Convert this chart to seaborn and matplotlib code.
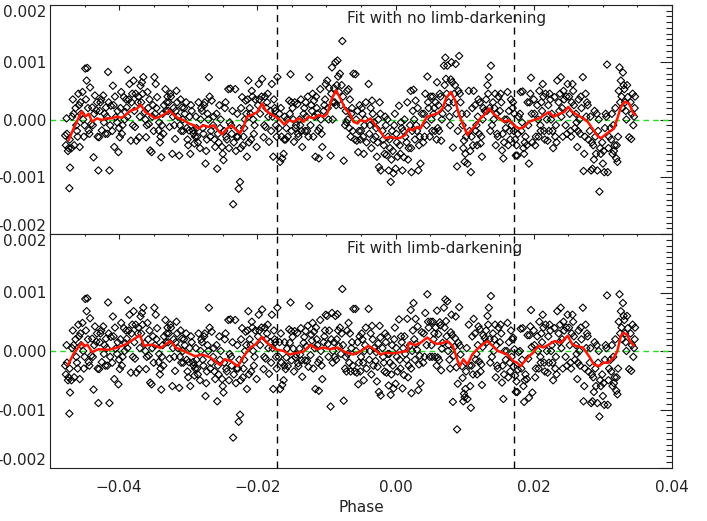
import matplotlib
matplotlib.use("Agg")
import matplotlib.pyplot as plt
import seaborn as sns
import numpy as np
from matplotlib.ticker import MultipleLocator, FuncFormatter

# orbital phase of each exposure (units of 1e-3)
phase_k = [
    -47.8, -47.6, -47.4, -47.2, -47.1, -47.7, -47.3, -47.55, -47.15,
    -46.9, -46.7, -46.5, -46.3, -46.1, -46.8, -46.2, -46.6, -46.0,
    -45.9, -45.7, -45.5, -45.3, -45.1, -45.8, -45.2, -45.6, -45.0,
    -44.9, -44.7, -44.6, -44.4, -44.2, -44.05, -44.5, -44.8, -44.3,
    -43.9, -43.7, -43.5, -43.3, -43.0, -43.8, -43.2, -43.6, -43.1,
    -42.9, -42.7, -42.5, -42.3, -42.1, -42.8, -42.2, -42.6, -42.0,
    -41.9, -41.7, -41.6, -41.4, -41.2, -41.8, -41.3, -41.5, -41.0,
    -40.9, -40.7, -40.5, -40.3, -40.1, -40.8, -40.2, -40.6, -40.0,
    -39.9, -39.7, -39.5, -39.3, -39.1, -39.8, -39.2, -39.6, -39.0,
    -38.9, -38.7, -38.5, -38.3, -38.1, -38.8, -38.2, -38.6, -38.0,
    -37.9, -37.7, -37.5, -37.3, -37.1, -37.8, -37.2, -37.6, -37.0,
    -36.9, -36.7, -36.5, -36.3, -36.1, -36.8, -36.2, -36.6, -36.0,
    -35.9, -35.7, -35.5, -35.3, -35.1, -35.8, -35.2, -35.6, -35.0,
    -34.9, -34.7, -34.5, -34.3, -34.1, -34.8, -34.2, -34.6, -34.0,
    -33.9, -33.7, -33.5, -33.3, -33.1, -33.8, -33.2, -33.6, -33.0,
    -32.9, -32.7, -32.5, -32.3, -32.1, -32.8, -32.2, -32.6, -32.0,
    -31.9, -31.7, -31.5, -31.3, -31.1, -31.8, -31.2, -31.6, -31.0,
    -30.9, -30.7, -30.5, -30.3, -30.1, -30.8, -30.2, -30.6, -30.0,
    -29.9, -29.7, -29.5, -29.3, -29.1, -29.8, -29.2, -29.6, -29.0,
    -28.9, -28.7, -28.5, -28.3, -28.1, -28.8, -28.2, -28.6, -28.0,
    -27.9, -27.7, -27.5, -27.3, -27.1, -27.8, -27.2, -27.6, -27.4,
    -27.0, -26.8, -26.6, -26.4, -26.1, -26.7, -26.3, -26.9, -26.2,
    -25.9, -25.8, -25.6, -25.3, -25.1, -25.7, -25.4, -25.5, -25.0,
    -24.9, -24.7, -24.5, -24.2, -24.0, -24.8, -24.4, -24.6, -24.1,
    -23.9, -23.7, -23.5, -23.2, -23.0, -23.8, -23.4, -23.6, -23.1,
    -22.9, -22.7, -22.5, -22.4, -22.2, -22.8, -22.6, -22.35, -22.1,
    -22.0, -21.8, -21.7, -21.5, -21.3, -21.9, -21.6, -21.4, -21.2,
    -21.1, -20.9, -20.8, -20.6, -20.3, -21.0, -20.4, -20.7, -20.5,
    -20.1, -19.8, -19.6, -19.3, -19.1, -19.9, -19.4, -19.7, -19.0,
    -18.9, -18.8, -18.6, -18.3, -18.1, -18.7, -18.4, -18.5, -18.0,
    -17.9, -17.7, -17.5, -17.3, -17.1, -17.8, -17.4, -17.6, -17.2,
    -16.9, -16.7, -16.4, -16.2, -16.05, -16.8, -16.5, -16.6, -16.1,
    -15.9, -15.7, -15.4, -15.2, -15.05, -15.8, -15.3, -15.6, -15.1,
    -14.9, -14.7, -14.5, -14.2, -14.05, -14.8, -14.4, -14.6, -14.1,
    -13.9, -13.7, -13.5, -13.3, -13.1, -13.8, -13.2, -13.6, -13.0,
    -12.9, -12.7, -12.5, -12.3, -12.1, -12.8, -12.2, -12.6, -12.0,
    -11.9, -11.8, -11.6, -11.4, -11.2, -11.7, -11.3, -11.5, -11.0,
    -11.1, -10.9, -10.6, -10.4, -10.1, -10.8, -10.3, -10.7, -10.2,
    -9.9, -9.7, -9.4, -9.2, -9.05, -9.8, -9.3, -9.6, -9.1,
    -8.9, -8.7, -8.4, -8.2, -8.05, -8.8, -8.5, -8.6, -8.3,
    -7.9, -7.7, -7.5, -7.3, -7.0, -7.8, -7.2, -7.6, -7.1,
    -6.9, -6.8, -6.5, -6.3, -6.1, -6.7, -6.4, -6.6, -6.2,
    -5.9, -5.8, -5.6, -5.4, -5.2, -5.7, -5.3, -5.5, -5.1,
    -5.0, -4.8, -4.6, -4.4, -4.2, -4.9, -4.5, -4.7, -4.3,
    -3.9, -3.7, -3.5, -3.4, -3.1, -3.8, -3.3, -3.6, -3.2,
    -2.9, -2.7, -2.5, -2.3, -2.15, -2.8, -2.4, -2.6, -2.2,
    -1.9, -1.7, -1.5, -1.3, -1.1, -1.8, -1.4, -1.6, -1.2,
    -1.0, -0.8, -0.7, -0.5, -0.3, -0.1, -0.9, -0.4, -0.6, -0.2,
    0.0, 0.2, 0.5, 0.7, 0.9, 0.1, 0.6, 0.3, 0.8,
    1.0, 1.2, 1.4, 1.7, 1.9, 1.1, 1.6, 1.3, 1.8,
    2.1, 2.2, 2.3, 2.6, 2.8, 2.4, 2.7, 2.25, 2.5,
    2.9, 3.1, 3.3, 3.6, 3.8, 3.0, 3.5, 3.2, 3.4,
    4.0, 4.3, 4.6, 4.8, 4.95, 4.1, 4.5, 4.2, 4.7,
    5.1, 5.3, 5.5, 5.8, 5.95, 5.2, 5.6, 5.4, 5.7,
    6.0, 6.3, 6.5, 6.6, 6.8, 6.2, 6.7, 6.1, 6.4,
    7.0, 7.2, 7.3, 7.5, 7.7, 7.9, 7.4, 7.6, 7.1, 7.8,
    8.1, 8.2, 8.3, 8.5, 8.7, 8.9, 8.4, 8.6, 8.0, 8.8,
    9.0, 9.2, 9.4, 9.6, 9.9, 9.1, 9.7, 9.3, 9.8,
    10.0, 10.1, 10.4, 10.6, 10.9, 10.2, 10.7, 10.3, 10.8,
    11.0, 11.3, 11.5, 11.7, 11.9, 11.2, 11.6, 11.1, 11.8,
    12.1, 12.3, 12.5, 12.7, 12.9, 12.2, 12.6, 12.0, 12.4,
    13.1, 13.3, 13.5, 13.8, 13.95, 13.2, 13.6, 13.4, 13.7,
    14.1, 14.3, 14.5, 14.7, 14.9, 14.2, 14.6, 14.4, 14.8,
    15.2, 15.4, 15.6, 15.8, 15.95, 15.1, 15.5, 15.3, 15.7,
    16.2, 16.4, 16.6, 16.8, 16.95, 16.1, 16.5, 16.3, 16.7,
    17.1, 17.3, 17.4, 17.6, 17.8, 17.2, 17.7, 17.0, 17.5,
    18.1, 18.3, 18.4, 18.6, 18.8, 18.2, 18.7, 18.0, 18.5,
    19.1, 19.3, 19.5, 19.6, 19.8, 19.2, 19.7, 19.0, 19.4,
    20.1, 20.3, 20.5, 20.8, 20.95, 20.2, 20.6, 20.0, 20.7,
    21.1, 21.3, 21.5, 21.7, 21.9, 21.2, 21.6, 21.0, 21.4,
    22.0, 22.2, 22.4, 22.6, 22.8, 22.1, 22.5, 22.3, 22.7,
    23.0, 23.2, 23.4, 23.6, 23.9, 23.1, 23.7, 23.3, 23.8,
    24.0, 24.2, 24.4, 24.6, 24.9, 24.1, 24.7, 24.3, 24.8,
    25.1, 25.3, 25.6, 25.8, 25.95, 25.2, 25.5, 25.4, 25.7,
    26.1, 26.3, 26.5, 26.7, 26.9, 26.2, 26.6, 26.4, 26.8,
    27.1, 27.3, 27.5, 27.7, 27.9, 27.2, 27.6, 27.4, 27.8,
    28.1, 28.3, 28.5, 28.7, 28.9, 28.2, 28.6, 28.4, 28.8,
    29.1, 29.2, 29.5, 29.7, 29.9, 29.3, 29.6, 29.0, 29.4,
    30.0, 30.2, 30.4, 30.6, 30.7, 30.9, 30.3, 30.8, 30.1, 30.5,
    31.1, 31.4, 31.6, 31.8, 31.95, 31.2, 31.5, 31.3, 31.7,
    32.1, 32.3, 32.4, 32.6, 32.8, 32.2, 32.7, 32.0, 32.5,
    32.9, 33.1, 33.3, 33.6, 33.8, 33.2, 33.5, 33.0, 33.4,
    34.0, 34.1, 34.3, 34.5, 34.6, 34.2, 34.4, 34.65,
]

# residuals of the fit without limb darkening (units of 1e-3)
resid_no_ld = [
    -0.28, 0.02, -0.55, -1.20, -0.84, -0.45, -0.50, -0.25, -0.35,
    -0.50, 0.35, -0.45, 0.20, -0.20, 0.05, -0.10, 0.10, -0.30,
    0.45, -0.48, 0.10, 0.48, -0.30, 0.25, 0.00, 0.30, -0.10,
    0.89, 0.68, 0.90, -0.19, 0.56, -0.08, 0.20, 0.35, -0.25,
    0.21, -0.66, 0.42, 0.16, -0.89, -0.10, 0.30, 0.10, -0.30,
    -0.31, 0.30, -0.19, 0.42, 0.10, 0.15, -0.05, 0.35, -0.25,
    0.21, -0.25, 0.83, -0.89, 0.24, 0.05, -0.10, 0.30, -0.20,
    0.59, -0.48, 0.04, -0.05, -0.57, 0.25, 0.15, 0.40, -0.15,
    -0.31, 0.48, -0.10, 0.39, 0.13, 0.20, 0.00, -0.25, 0.35,
    0.21, 0.87, 0.62, -0.37, 0.45, 0.05, 0.30, 0.35, -0.10,
    0.68, -0.13, -0.37, 0.30, -0.31, 0.15, 0.40, 0.45, 0.05,
    0.59, 0.65, 0.74, 0.13, -0.31, 0.30, 0.00, 0.45, -0.10,
    0.48, -0.08, -0.54, -0.57, 0.25, 0.20, 0.05, 0.35, -0.20,
    0.74, 0.62, 0.39, -0.19, -0.40, 0.10, -0.05, 0.20, -0.30,
    -0.66, 0.10, 0.25, 0.53, 0.30, -0.10, 0.15, -0.25, 0.40,
    0.15, -0.13, 0.40, -0.60, 0.20, 0.30, 0.05, 0.45, -0.10,
    -0.34, 0.50, 0.05, -0.63, 0.35, 0.15, -0.10, 0.30, -0.20,
    0.21, -0.20, 0.10, 0.30, -0.35, 0.00, -0.15, 0.20, -0.45,
    -0.19, -0.60, 0.15, -0.19, -0.42, 0.05, -0.25, 0.25, -0.30,
    0.05, -0.30, 0.30, -0.50, 0.20, -0.15, 0.00, -0.40, 0.15,
    -0.15, 0.25, -0.77, -0.35, 0.00, -0.25, 0.10, 0.30, -0.55,
    0.74, -0.30, 0.33, -0.10, -0.48, -0.20, 0.05, 0.40, -0.35,
    0.10, -0.86, -0.40, 0.00, -0.48, -0.25, -0.15, 0.25, -0.60,
    -0.71, 0.20, -0.30, 0.53, -0.05, -0.20, -0.35, 0.30, -0.50,
    0.54, -0.25, -1.48, 0.53, -0.30, -0.10, -0.40, 0.15, -0.55,
    0.10, -1.21, -1.09, -0.50, 0.39, -0.30, -0.15, 0.20, -0.45,
    -0.30, 0.00, 0.33, -0.65, 0.68, -0.15, 0.10, 0.35, -0.40,
    0.20, -0.35, 0.50, 0.00, 0.35, 0.10, -0.10, 0.40, -0.25,
    -0.48, 0.62, 0.10, 0.71, -0.31, 0.25, 0.40, 0.35, -0.10,
    0.40, -0.13, 0.30, -0.39, 0.15, 0.20, 0.05, 0.45, -0.20,
    0.62, -0.65, 0.20, -0.10, 0.74, 0.05, 0.15, 0.35, -0.30,
    -0.15, -0.74, -0.68, -0.60, 0.05, 0.10, -0.30, 0.20, -0.35,
    -0.35, 0.00, 0.33, 0.79, -0.20, -0.15, 0.10, -0.30, 0.30,
    0.20, -0.39, -0.15, 0.27, -0.30, 0.00, -0.10, 0.30, -0.25,
    0.00, 0.35, -0.48, 0.10, -0.20, -0.10, 0.20, -0.20, 0.30,
    0.05, 0.40, 0.74, -0.10, 0.15, -0.20, 0.25, -0.30, 0.45,
    -0.30, 0.33, -0.65, 0.20, -0.20, 0.05, 0.10, 0.40, -0.15,
    -0.68, 0.53, -0.48, 0.15, 0.62, 0.00, 0.25, -0.25, 0.35,
    0.68, 0.00, -0.63, 0.91, 0.30, 0.20, 0.45, 0.55, 0.00,
    0.55, 1.00, 1.03, 0.48, 0.80, 0.30, 0.60, 0.25, 0.75,
    0.25, 1.37, -0.72, -0.10, 0.50, 0.60, 0.15, 0.40, -0.05,
    0.00, 0.53, -0.30, 0.20, 0.80, -0.15, 0.10, 0.35, -0.20,
    -0.35, 0.79, -0.37, -0.57, 0.25, 0.00, -0.20, 0.15, -0.35,
    -0.20, 0.10, -0.60, 0.00, -0.40, 0.20, -0.10, -0.30, 0.30,
    0.62, -0.10, -0.50, 0.33, -0.05, -0.25, 0.10, 0.20, -0.35,
    -0.30, -0.65, 0.00, 0.30, -0.89, -0.15, -0.83, -0.40, 0.10,
    -0.20, -0.45, 0.05, -0.62, -0.30, -0.35, -0.10, -0.60, 0.00,
    -0.89, -0.50, -1.09, -0.20, -0.94, 0.10, -0.35, -0.55, -0.70, -0.10,
    -0.86, -0.40, 0.24, -0.60, -0.15, -0.25, -0.45, -0.65, -0.05,
    -0.89, -0.66, -0.30, 0.30, -0.50, -0.20, -0.40, 0.00, -0.70,
    -0.10, 0.50, -0.92, 0.52, -0.35, -0.20, 0.00, -0.50, 0.15,
    0.33, -0.20, -0.89, -0.77, 0.10, -0.10, -0.30, 0.20, -0.45,
    -0.40, 0.45, 0.75, 0.20, -0.30, 0.10, -0.10, -0.30, 0.30,
    0.40, -0.20, 0.10, 0.30, -0.35, 0.00, 0.20, 0.40, -0.20,
    0.65, -0.20, 0.40, -0.37, 0.10, 0.25, 0.00, -0.15, 0.45,
    0.94, 1.08, 0.71, 0.94, 0.30, -0.10, 0.45, 0.20, 0.60, 0.05,
    1.00, 0.65, -0.49, 0.45, 0.97, -0.82, 0.30, 0.60, 0.70, 0.10,
    -0.20, 1.11, 0.30, 0.10, -0.37, 0.50, -0.10, 0.45, -0.50,
    -0.74, -0.60, -0.77, 0.50, -0.92, -0.30, -0.20, 0.10, -0.55,
    -0.30, 0.50, 0.25, -0.10, 0.05, -0.45, -0.20, 0.20, -0.45,
    -0.25, -0.42, -0.65, 0.20, 0.15, 0.30, 0.00, 0.35, -0.30,
    0.35, 0.60, 0.74, 0.94, -0.10, 0.15, 0.20, 0.45, -0.20,
    0.30, 0.20, -0.45, -0.25, 0.40, 0.00, 0.10, 0.45, -0.30,
    0.45, -0.54, -0.68, 0.00, -0.15, 0.15, -0.25, 0.30, -0.40,
    0.48, 0.15, -0.35, -0.10, 0.20, 0.00, -0.20, -0.45, 0.35,
    -0.20, -0.35, -0.63, -0.63, 0.05, 0.10, -0.25, 0.30, -0.45,
    0.48, -0.05, 0.49, -0.60, -0.30, -0.20, -0.40, 0.10, -0.50,
    0.30, -0.77, 0.45, 0.73, -0.40, -0.10, 0.10, -0.45, 0.30,
    0.10, -0.30, 0.25, 0.50, -0.10, -0.45, 0.00, 0.35, -0.30,
    0.30, 0.62, -0.20, 0.45, 0.00, 0.15, -0.35, -0.20, 0.40,
    -0.37, -0.20, 0.35, 0.10, -0.50, 0.25, 0.00, 0.45, -0.20,
    0.39, -0.10, 0.68, 0.30, 0.74, -0.30, 0.15, -0.40, 0.45,
    0.05, -0.30, 0.35, -0.10, 0.62, 0.20, 0.40, 0.50, -0.25,
    0.40, -0.20, 0.62, 0.25, -0.15, 0.10, 0.30, -0.30, 0.50,
    0.10, -0.48, 0.35, -0.25, 0.20, -0.05, 0.00, -0.20, 0.40,
    0.74, -0.60, 0.45, 0.30, -0.35, -0.90, 0.05, -0.30, 0.25,
    -0.20, -0.89, -0.86, -0.70, -0.30, 0.05, -0.45, -0.40, 0.15,
    0.10, -0.89, -1.26, -0.60, -0.40, -0.20, -0.50, -0.60, 0.00,
    -0.77, -0.92, 0.10, 0.96, -0.92, -0.30, -0.15, -0.50, -0.55, 0.05,
    -0.15, -0.60, -0.55, 0.20, -0.68, -0.35, -0.10, 0.10, -0.45,
    -0.74, 0.50, 0.91, 0.68, 0.20, -0.30, 0.40, -0.45, 0.30,
    0.82, 0.53, 0.15, 0.39, -0.31, 0.30, 0.60, 0.60, 0.00,
    0.30, -0.34, 0.45, 0.05, 0.20, 0.10, -0.10, 0.40,
]

# residuals of the fit with limb darkening (units of 1e-3)
resid_ld = [
    -0.25, 0.10, -0.50, -1.07, -0.71, -0.40, -0.45, -0.20, -0.30,
    -0.50, 0.35, -0.45, 0.20, -0.20, 0.05, -0.10, 0.10, -0.30,
    0.45, -0.48, 0.10, 0.48, -0.30, 0.25, 0.00, 0.30, -0.10,
    0.89, 0.68, 0.90, -0.19, 0.56, -0.08, 0.20, 0.35, -0.25,
    0.21, -0.66, 0.42, 0.16, -0.89, -0.10, 0.30, 0.10, -0.30,
    -0.31, 0.30, -0.19, 0.42, 0.10, 0.15, -0.05, 0.35, -0.25,
    0.21, -0.25, 0.83, -0.89, 0.24, 0.05, -0.10, 0.30, -0.20,
    0.59, -0.48, 0.04, -0.05, -0.57, 0.25, 0.15, 0.40, -0.15,
    -0.31, 0.48, -0.10, 0.39, 0.13, 0.20, 0.00, -0.25, 0.35,
    0.21, 0.87, 0.62, -0.37, 0.45, 0.05, 0.30, 0.35, -0.10,
    0.68, -0.13, -0.37, 0.30, -0.31, 0.15, 0.40, 0.45, 0.05,
    0.59, 0.65, 0.74, 0.13, -0.31, 0.30, 0.00, 0.45, -0.10,
    0.48, -0.08, -0.54, -0.57, 0.25, 0.20, 0.05, 0.35, -0.20,
    0.74, 0.62, 0.39, -0.19, -0.40, 0.10, -0.05, 0.20, -0.30,
    -0.66, 0.10, 0.25, 0.53, 0.30, -0.10, 0.15, -0.25, 0.40,
    0.15, -0.13, 0.40, -0.60, 0.20, 0.30, 0.05, 0.45, -0.10,
    -0.34, 0.50, 0.05, -0.63, 0.35, 0.15, -0.10, 0.30, -0.20,
    0.21, -0.20, 0.10, 0.30, -0.35, 0.00, -0.15, 0.20, -0.45,
    -0.19, -0.60, 0.15, -0.19, -0.42, 0.05, -0.25, 0.25, -0.30,
    0.05, -0.30, 0.30, -0.50, 0.20, -0.15, 0.00, -0.40, 0.15,
    -0.15, 0.25, -0.77, -0.35, 0.00, -0.25, 0.10, 0.30, -0.55,
    0.74, -0.30, 0.33, -0.10, -0.48, -0.20, 0.05, 0.40, -0.35,
    0.10, -0.86, -0.40, 0.00, -0.48, -0.25, -0.15, 0.25, -0.60,
    -0.71, 0.20, -0.30, 0.53, -0.05, -0.20, -0.35, 0.30, -0.50,
    0.54, -0.25, -1.48, 0.53, -0.30, -0.10, -0.40, 0.15, -0.55,
    0.10, -1.21, -1.09, -0.50, 0.39, -0.30, -0.15, 0.20, -0.45,
    -0.30, 0.00, 0.33, -0.65, 0.68, -0.15, 0.10, 0.35, -0.40,
    0.20, -0.35, 0.50, 0.00, 0.35, 0.10, -0.10, 0.40, -0.25,
    -0.48, 0.62, 0.10, 0.71, -0.31, 0.25, 0.40, 0.35, -0.10,
    0.40, -0.13, 0.30, -0.39, 0.15, 0.20, 0.05, 0.45, -0.20,
    0.62, -0.65, 0.20, -0.10, 0.74, 0.05, 0.15, 0.35, -0.30,
    -0.10, -0.65, -0.58, -0.50, 0.15, 0.15, -0.20, 0.30, -0.25,
    -0.31, 0.04, 0.37, 0.83, -0.16, -0.11, 0.14, -0.26, 0.34,
    0.24, -0.35, -0.11, 0.31, -0.26, 0.04, -0.06, 0.34, -0.21,
    0.04, 0.39, -0.44, 0.14, -0.16, -0.06, 0.24, -0.16, 0.34,
    0.08, 0.43, 0.77, -0.07, 0.18, -0.17, 0.28, -0.27, 0.48,
    -0.30, 0.33, -0.65, 0.20, -0.20, 0.05, 0.10, 0.40, -0.15,
    -0.68, 0.53, -0.48, 0.15, 0.62, 0.00, 0.25, -0.25, 0.35,
    0.60, -0.10, -0.95, 0.65, 0.00, 0.12, 0.20, 0.35, -0.20,
    0.15, 0.60, 0.63, 0.08, 0.40, -0.10, 0.20, -0.15, 0.35,
    -0.05, 1.06, -0.85, -0.30, 0.35, 0.30, -0.10, 0.10, -0.35,
    -0.05, 0.48, -0.35, 0.15, 0.72, -0.20, 0.05, 0.30, -0.25,
    -0.35, 0.72, -0.37, -0.57, 0.25, 0.00, -0.20, 0.15, -0.35,
    -0.10, 0.20, -0.50, 0.10, -0.30, 0.30, 0.00, -0.20, 0.40,
    0.72, 0.00, -0.40, 0.43, 0.05, -0.15, 0.20, 0.30, -0.25,
    -0.17, -0.52, 0.13, 0.43, -0.76, -0.02, -0.70, -0.27, 0.23,
    0.05, -0.20, 0.30, -0.37, -0.05, -0.10, 0.15, -0.35, 0.25,
    -0.59, -0.20, -0.75, 0.10, -0.64, 0.40, -0.05, -0.25, -0.40, 0.20,
    -0.56, -0.10, 0.54, -0.30, 0.15, 0.05, -0.15, -0.35, 0.25,
    -0.64, -0.41, -0.05, 0.55, -0.25, 0.05, -0.15, 0.25, -0.45,
    0.10, 0.70, -0.72, 0.82, -0.15, 0.00, 0.20, -0.30, 0.35,
    0.55, 0.02, -0.67, -0.55, 0.32, 0.12, -0.08, 0.42, -0.23,
    -0.20, 0.65, 0.97, 0.40, -0.10, 0.30, 0.10, -0.10, 0.50,
    0.50, -0.10, 0.20, 0.40, -0.25, 0.10, 0.30, 0.50, -0.10,
    0.69, -0.16, 0.44, -0.33, 0.14, 0.29, 0.04, -0.11, 0.49,
    0.74, 0.88, 0.51, 0.85, 0.10, -0.30, 0.25, 0.00, 0.40, -0.15,
    0.62, 0.27, -0.87, 0.07, 0.59, -1.34, -0.08, 0.22, 0.32, -0.28,
    -0.56, 0.75, -0.06, -0.26, -0.73, 0.14, -0.46, 0.09, -0.86,
    -0.79, -0.65, -0.82, 0.45, -0.97, -0.35, -0.25, 0.05, -0.60,
    -0.25, 0.55, 0.30, -0.05, 0.10, -0.40, -0.15, 0.25, -0.40,
    -0.18, -0.35, -0.58, 0.27, 0.22, 0.37, 0.07, 0.42, -0.23,
    0.35, 0.60, 0.74, 0.94, -0.10, 0.15, 0.20, 0.45, -0.20,
    0.30, 0.20, -0.45, -0.25, 0.40, 0.00, 0.10, 0.45, -0.30,
    0.45, -0.54, -0.82, 0.00, -0.15, 0.15, -0.25, 0.30, -0.40,
    0.48, 0.15, -0.35, -0.10, 0.20, 0.00, -0.20, -0.45, 0.35,
    -0.27, -0.42, -0.70, -0.70, -0.02, 0.03, -0.32, 0.23, -0.52,
    0.38, -0.15, 0.39, -0.87, -0.40, -0.30, -0.50, 0.00, -0.60,
    0.27, -0.80, 0.42, 0.70, -0.71, -0.13, 0.07, -0.48, 0.27,
    0.10, -0.30, 0.25, 0.50, -0.10, -0.45, 0.00, 0.35, -0.30,
    0.30, 0.62, -0.20, 0.45, 0.00, 0.15, -0.35, -0.20, 0.40,
    -0.37, -0.20, 0.35, 0.10, -0.50, 0.25, 0.00, 0.45, -0.20,
    0.39, -0.10, 0.68, 0.30, 0.74, -0.30, 0.15, -0.40, 0.45,
    0.05, -0.30, 0.35, -0.10, 0.62, 0.20, 0.40, 0.50, -0.25,
    0.40, -0.20, 0.62, 0.25, -0.15, 0.10, 0.30, -0.30, 0.50,
    0.10, -0.48, 0.35, -0.25, 0.20, -0.05, 0.00, -0.20, 0.40,
    0.74, -0.60, 0.45, 0.30, -0.35, -0.86, 0.05, -0.30, 0.25,
    -0.20, -0.89, -0.86, -0.70, -0.30, 0.05, -0.45, -0.40, 0.15,
    0.10, -0.89, -1.12, -0.60, -0.40, -0.20, -0.50, -0.60, 0.00,
    -0.77, -0.92, 0.10, 0.95, -0.92, -0.30, -0.15, -0.50, -0.55, 0.05,
    -0.15, -0.60, -0.55, 0.20, -0.68, -0.35, -0.10, 0.10, -0.45,
    -0.74, 0.50, 0.97, 0.68, 0.20, -0.30, 0.40, -0.45, 0.30,
    0.82, 0.53, 0.15, 0.39, -0.31, 0.30, 0.60, 0.60, 0.00,
    0.30, -0.34, 0.45, 0.05, 0.20, 0.10, -0.10, 0.40,
]

# running mean of the residuals (red curves), units of 1e-3
smooth_no_ld_phase = [
    -47.3, -46.6, -45.9, -45.4, -44.9, -44.4, -43.9, -43.2, -42.5, -41.8,
    -41.1, -40.3, -39.6, -38.9, -38.2, -37.4, -36.9, -36.2, -35.5, -34.8,
    -34.1, -33.3, -32.7, -32.1, -31.4, -30.7, -29.9, -29.2, -28.5, -27.8,
    -27.1, -26.3, -25.7, -25.1, -24.4, -23.7, -23.0, -22.5, -22.0, -21.5,
    -20.8, -20.0, -19.3, -18.8, -18.1, -17.4, -16.7, -16.1, -15.5, -14.7,
    -14.0, -13.3, -12.6, -11.8, -11.1, -10.4, -9.9, -9.2, -8.6, -8.0,
    -7.3, -6.6, -6.1, -5.5, -5.1, -4.4, -3.6, -2.9, -2.2, -1.5,
    -0.7, 0.0, 0.7, 1.4, 1.9, 2.5, 3.1, 3.6, 4.1, 4.6,
    5.3, 6.0, 6.8, 7.3, 8.0, 8.6, 9.2, 9.9, 10.4, 10.9,
    11.6, 12.3, 13.0, 13.5, 14.2, 15.0, 15.7, 16.4, 17.1, 17.9,
    18.6, 19.3, 20.0, 20.8, 21.5, 22.2, 22.9, 23.7, 24.4, 25.0,
    25.6, 26.3, 27.1, 27.8, 28.5, 29.1, 29.7, 30.4, 31.0, 31.6,
    32.1, 32.6, 33.2, 33.8, 34.3, 34.7,
]
smooth_no_ld = [
    -0.36, -0.16, 0.02, 0.14, 0.05, 0.10, -0.04, 0.02, -0.01, 0.02,
    0.02, 0.05, 0.03, 0.10, 0.16, 0.19, 0.26, 0.13, 0.08, 0.02,
    0.05, 0.10, 0.16, 0.08, 0.02, -0.01, -0.07, -0.10, -0.16, -0.10,
    -0.13, -0.10, -0.19, -0.26, -0.16, -0.10, -0.19, -0.24, -0.13, 0.05,
    0.08, 0.13, 0.28, 0.16, 0.10, 0.05, -0.01, -0.09, -0.01, -0.04,
    0.02, -0.04, 0.05, 0.02, 0.08, 0.05, 0.10, 0.37, 0.51, 0.37,
    0.19, 0.10, -0.04, -0.07, -0.01, -0.04, 0.02, -0.10, -0.21, -0.33,
    -0.30, -0.33, -0.32, -0.27, -0.16, -0.19, -0.13, -0.16, -0.04, 0.05,
    0.08, 0.10, 0.19, 0.37, 0.48, 0.34, 0.08, -0.13, -0.27, -0.19,
    -0.10, 0.02, 0.10, 0.19, 0.10, 0.02, -0.04, -0.01, -0.10, -0.16,
    -0.13, -0.04, -0.01, 0.02, 0.08, 0.13, 0.05, 0.10, 0.13, 0.22,
    0.13, 0.08, 0.02, -0.04, -0.16, -0.27, -0.33, -0.26, -0.21, -0.16,
    0.02, 0.22, 0.31, 0.28, 0.13, 0.08,
]
smooth_ld_phase = [
    -47.4, -46.6, -45.4, -45.0, -44.6, -43.9, -43.0, -41.5, -40.2, -39.1,
    -38.3, -37.0, -36.4, -35.2, -34.0, -32.6, -31.8, -30.1, -29.0, -28.0,
    -26.8, -25.4, -24.7, -23.9, -22.8, -21.9, -21.0, -20.3, -19.3, -18.6,
    -17.9, -17.4, -16.2, -15.3, -14.2, -13.3, -12.3, -11.4, -10.4, -9.5,
    -8.4, -7.3, -6.1, -5.0, -3.9, -3.0, -2.2, -1.3, -0.3, 0.7,
    1.7, 1.9, 2.8, 3.6, 4.6, 5.4, 6.0, 6.9, 7.5, 8.3,
    9.0, 9.3, 9.8, 10.4, 11.1, 11.8, 12.6, 13.3, 14.1, 14.8,
    15.5, 16.2, 17.0, 17.6, 18.1, 18.7, 19.3, 19.9, 20.7, 21.4,
    22.2, 23.0, 23.9, 24.9, 25.6, 26.3, 27.1, 28.0, 28.7, 29.4,
    30.1, 30.8, 31.6, 32.1, 32.6, 33.0, 33.5, 33.9, 34.5,
]
smooth_ld = [
    -0.24, -0.05, 0.14, 0.08, 0.11, -0.02, 0.03, 0.02, 0.06, 0.11,
    0.17, 0.27, 0.09, 0.11, 0.05, 0.17, 0.06, -0.03, -0.09, -0.06,
    -0.11, -0.24, -0.14, -0.17, -0.26, -0.08, 0.06, 0.11, 0.24, 0.14,
    0.08, 0.03, 0.00, -0.06, -0.03, -0.01, 0.11, 0.03, 0.06, 0.03,
    0.06, -0.02, -0.06, 0.00, 0.09, 0.02, -0.06, -0.03, -0.04, -0.02,
    0.00, 0.14, 0.10, 0.14, 0.23, 0.15, 0.12, 0.14, 0.17, 0.08,
    -0.17, -0.26, -0.14, -0.23, -0.06, 0.03, 0.11, 0.17, 0.08, 0.00,
    -0.03, -0.06, -0.17, -0.20, -0.26, -0.17, -0.09, -0.03, 0.09, 0.06,
    0.11, 0.17, 0.14, 0.26, 0.11, 0.08, 0.06, -0.09, -0.23, -0.26,
    -0.20, -0.20, -0.11, 0.00, 0.26, 0.31, 0.28, 0.17, 0.09,
]

contact_phases = [-0.0172, 0.0172]
panel_titles = ["Fit with no limb-darkening", "Fit with limb-darkening"]

sns.set_style("white")
plt.rcParams["font.family"] = ["DejaVu Sans"]

W, H = 707, 521
fig = plt.figure(figsize=(W / 100, H / 100), dpi=100)
ax_top = fig.add_axes([50 / W, 1 - 234 / H, 622 / W, 229 / H])
ax_bot = fig.add_axes([50 / W, 1 - 468 / H, 622 / W, 234 / H])

phase = np.array(phase_k) * 1e-3
ink = "#222222"


def fmt_x(v, pos):
    return f"{v:.2f}".replace("-", "\u2212")


def fmt_y(v, pos):
    if abs(v) < 1e-12:
        v = 0.0
    return f"{v:.3f}"


panels = [
    (ax_top, resid_no_ld, smooth_no_ld_phase, smooth_no_ld, panel_titles[0]),
    (ax_bot, resid_ld, smooth_ld_phase, smooth_ld, panel_titles[1]),
]

for ax, resid, s_ph, s_val, title in panels:
    ax.axhline(0, color="#22dd22", lw=1.0, ls=(0, (4, 3)), zorder=1)
    for xc in contact_phases:
        ax.axvline(xc, color="black", lw=1.0, ls=(0, (5, 4)), zorder=1)
    sns.scatterplot(x=phase, y=np.array(resid) * 1e-3, marker="D", s=14,
                    facecolor="none", edgecolor="black", linewidth=0.8,
                    legend=False, ax=ax, zorder=2)
    sns.lineplot(x=np.array(s_ph) * 1e-3, y=np.array(s_val) * 1e-3,
                 estimator=None, sort=False, color="#ff1500", lw=1.8,
                 ax=ax, zorder=3)

    ax.set_xlim(-0.05, 0.04)
    ax.set_ylim(-0.002, 0.002)
    ax.set_xticks([-0.04, -0.02, 0.0, 0.02, 0.04])
    ax.xaxis.set_minor_locator(MultipleLocator(0.005))
    ax.set_yticks([-0.002, -0.001, 0.0, 0.001, 0.002])
    ax.yaxis.set_minor_locator(MultipleLocator(0.0001))
    ax.xaxis.set_major_formatter(FuncFormatter(fmt_x))
    ax.yaxis.set_major_formatter(FuncFormatter(fmt_y))

    ax.tick_params(which="both", direction="in", top=True, right=True,
                   colors=ink, labelsize=11, width=0.8)
    ax.tick_params(axis="x", which="major", length=3.3, pad=9)
    ax.tick_params(axis="x", which="minor", length=1.7)
    ax.tick_params(axis="y", which="major", length=8.9, pad=2.5)
    ax.tick_params(axis="y", which="minor", length=4.5)
    for sp in ax.spines.values():
        sp.set_color(ink)
        sp.set_linewidth(0.8)

    yt = ax.yaxis.get_major_ticks()
    yt[0].label1.set_verticalalignment("bottom")
    yt[-1].label1.set_verticalalignment("top")

    ax.text(0.477, 0.94, title, transform=ax.transAxes, va="center",
            ha="left", fontsize=11, color=ink)
    ax.set_ylabel("")

ax_top.tick_params(axis="x", labelbottom=False)
ax_top.set_xlabel("")
ax_bot.set_xlabel("Phase", fontsize=11, color=ink, labelpad=3)

fig.savefig("out.png", dpi=100)
